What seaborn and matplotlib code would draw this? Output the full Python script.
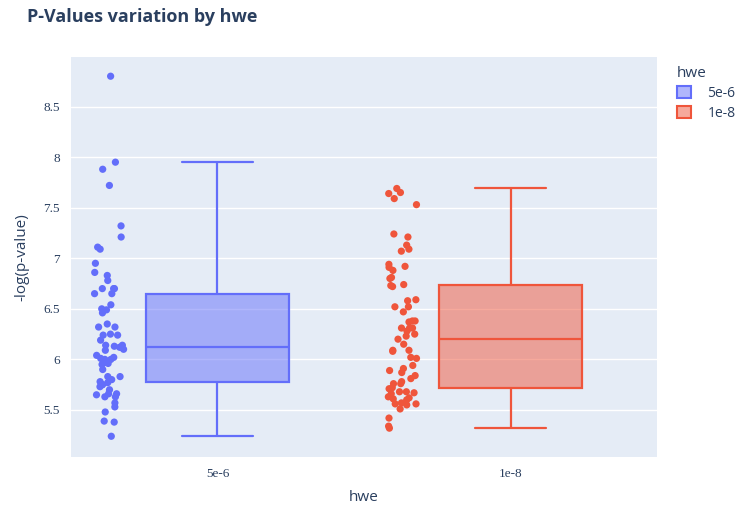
import seaborn as sns
import pandas as pd
import numpy as np
import matplotlib.pyplot as plt
from matplotlib.patches import Patch
from matplotlib.colors import to_rgba

# values
hwe_levels = ["5e-6", "1e-8"]

pvals_5e6 = [8.80, 7.95, 7.88, 7.72, 7.32, 7.21, 7.11, 7.09, 6.95, 6.83, 6.86, 6.78,
             6.70, 6.70, 6.70, 6.65, 6.65, 6.54, 6.50, 6.49, 6.46, 6.32, 6.35, 6.32,
             6.25, 6.24, 6.24, 6.19, 6.14, 6.14, 6.10, 6.13, 6.12, 6.12, 6.09, 6.04,
             6.02, 6.00, 6.00, 6.01, 5.97, 5.96, 5.95, 5.90, 5.83, 5.83, 5.80, 5.75,
             5.75, 5.77, 5.78, 5.73, 5.70, 5.65, 5.66, 5.63, 5.63, 5.66, 5.57, 5.53,
             5.48, 5.38, 5.39, 5.24]

pvals_1e8 = [7.69, 7.65, 7.64, 7.59, 7.53, 7.24, 7.21, 7.13, 7.09, 7.07, 6.92, 6.94,
             6.91, 6.88, 6.81, 6.80, 6.73, 6.74, 6.72, 6.59, 6.58, 6.47, 6.52, 6.52,
             6.38, 6.38, 6.37, 6.31, 6.31, 6.31, 6.28, 6.25, 6.23, 6.20, 6.15, 6.09,
             6.08, 6.09, 6.02, 6.01, 5.94, 5.91, 5.89, 5.87, 5.84, 5.81, 5.78, 5.76,
             5.76, 5.72, 5.71, 5.67, 5.68, 5.66, 5.68, 5.63, 5.61, 5.62, 5.60, 5.57,
             5.56, 5.55, 5.56, 5.51, 5.42, 5.34, 5.32]

df = pd.DataFrame({
    "hwe": ["5e-6"] * len(pvals_5e6) + ["1e-8"] * len(pvals_1e8),
    "pval": pvals_5e6 + pvals_1e8,
})
df["hwe"] = pd.Categorical(df["hwe"], categories=hwe_levels, ordered=True)

palette = {"5e-6": "#636EFA", "1e-8": "#EF553B"}
bg = "#E5ECF6"
txt = "#2a3f5f"

#%% plot

sns.set_style("white")
plt.rcParams["font.family"] = ["Open Sans", "DejaVu Sans"]

fig = plt.figure(figsize=(7.44, 5.08), dpi=100)
ax = fig.add_axes([0.0954, 0.1004, 0.7877, 0.7874])
ax.set_facecolor(bg)

sns.boxplot(data=df, x="hwe", y="pval", hue="hwe", order=hwe_levels,
            hue_order=hwe_levels, palette=palette, width=0.49, showfliers=False,
            dodge=False, legend=False, linewidth=1.6, ax=ax)

# plotly-like look: translucent fill, solid outline in series colour
for patch, lvl in zip(ax.patches, hwe_levels):
    col = palette[lvl]
    patch.set_facecolor(to_rgba(col, 0.5))
    patch.set_edgecolor(col)
for i, lvl in enumerate(hwe_levels):
    for line in ax.lines[i * 5:(i + 1) * 5]:
        line.set_color(palette[lvl])

n_before = len(ax.collections)
np.random.seed(3)
sns.stripplot(data=df, x="hwe", y="pval", hue="hwe", order=hwe_levels,
              hue_order=hwe_levels, palette=palette, jitter=0.052, size=5.2,
              linewidth=0, legend=False, ax=ax, zorder=3)
# move the points to the left of each box
for coll in ax.collections[n_before:]:
    off = coll.get_offsets()
    off[:, 0] = off[:, 0] - 0.37
    coll.set_offsets(off)

ax.set_xlim(-0.5, 1.5)
ax.set_ylim(5.035, 8.99)
ax.set_yticks([5.5, 6, 6.5, 7, 7.5, 8, 8.5])
ax.set_yticklabels(["5.5", "6", "6.5", "7", "7.5", "8", "8.5"])
ax.grid(axis="y", color="white", linewidth=1)
ax.set_axisbelow(True)
for s in ax.spines.values():
    s.set_visible(False)
ax.tick_params(length=0, pad=8, labelcolor=txt, labelsize=9.5)
for lab in ax.get_xticklabels() + ax.get_yticklabels():
    lab.set_family("Liberation Serif")

ax.set_xlabel("hwe", fontsize=11, color=txt, labelpad=7)
ax.set_ylabel("-log(p-value)", fontsize=11, color=txt, labelpad=10)

fig.text(0.036, 0.966, "P-Values variation by hwe", fontsize=13, fontweight="bold",
         color=txt, va="center", ha="left")

handles = [Patch(facecolor=to_rgba(palette[l], 0.5), edgecolor=palette[l], linewidth=1.5)
           for l in hwe_levels]
leg = fig.legend(handles, hwe_levels, title="hwe", loc="upper left",
                 bbox_to_anchor=(0.893, 0.895), frameon=False, fontsize=10,
                 title_fontsize=11, handlelength=1.0, handleheight=1.0,
                 handletextpad=1.2, labelspacing=0.35, alignment="left")
for t in leg.get_texts():
    t.set_color(txt)
leg.get_title().set_color(txt)

fig.savefig("out.png", dpi=100, facecolor="white")
